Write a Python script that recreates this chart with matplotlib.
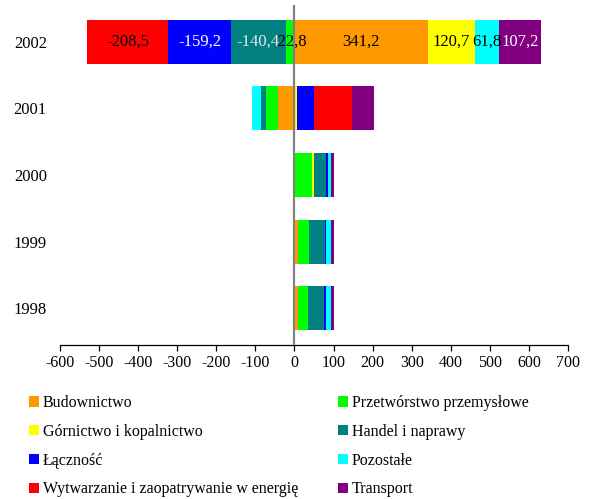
import numpy as np
import matplotlib
matplotlib.use('Agg')
import matplotlib.pyplot as plt
from matplotlib.patches import Patch

plt.rcParams['font.family'] = ['Liberation Serif', 'DejaVu Serif']
plt.rcParams['axes.unicode_minus'] = False

years = ['1998', '1999', '2000', '2001', '2002']

series = ['Budownictwo', 'Przetwórstwo przemysłowe', 'Górnictwo i kopalnictwo',
          'Handel i naprawy', 'Łączność', 'Pozostałe',
          'Wytwarzanie i zaopatrywanie w energię', 'Transport']
colors = ['#ff9900', '#00ff00', '#ffff00', '#008080',
          '#0000ff', '#00ffff', '#ff0000', '#800080']

budownictwo = [8, 8, 0, -41, 341.2]
przetworstwo = [26, 28, 44, -31, -22.8]
gornictwo = [0, 0, 5, 6, 120.7]
handel = [41, 41, 31, -13, -140.4]
lacznosc = [5, 3, 5, 44, -159.2]
pozostale = [13, 13, 8, -23, 61.8]
energia = [0, 0, 0, 97, -208.5]
transport = [8, 8, 8, 56, 107.2]

values = [budownictwo, przetworstwo, gornictwo, handel,
          lacznosc, pozostale, energia, transport]

# text colour of the value labels on the 2002 bar
label_colors = ['black', 'black', 'black', '#e8e8e8',
                'white', 'black', 'black', 'white']

fig = plt.figure(figsize=(5.89, 4.99), dpi=100)
ax = fig.add_axes([60 / 589, 1 - 345 / 499, 508 / 589, 340 / 499])

y = np.arange(len(years))
pos_left = np.zeros(len(years))
neg_left = np.zeros(len(years))

for i, vals in enumerate(values):
    vals = np.array(vals, dtype=float)
    left = np.where(vals >= 0, pos_left, neg_left)
    ax.barh(y, vals, left=left, height=0.66, color=colors[i], zorder=2)
    # label the latest year only
    v = vals[-1]
    ax.text(left[-1] + v / 2, y[-1], f'{v:.1f}'.replace('.', ','),
            ha='center', va='center', fontsize=12, color=label_colors[i], zorder=4)
    pos_left += np.where(vals >= 0, vals, 0)
    neg_left += np.where(vals < 0, vals, 0)

ax.axvline(0, color='#808080', linewidth=1.6, zorder=3)

ax.set_xlim(-600, 700)
ax.set_ylim(-0.55, 4.55)
ax.set_xticks(np.arange(-600, 701, 100))
ax.set_yticks(y)
ax.set_yticklabels(years)

for side in ['top', 'right', 'left']:
    ax.spines[side].set_visible(False)
ax.spines['bottom'].set_linewidth(0.9)
ax.tick_params(axis='x', direction='out', length=4, width=0.9, labelsize=11.5, pad=3)
ax.tick_params(axis='y', length=0, labelsize=12, pad=9.5)

handles = [Patch(facecolor=c, edgecolor='none') for c in colors]
leg_kw = dict(frameon=False, fontsize=11.5, handlelength=0.62, handleheight=0.62,
              handletextpad=0.25, labelspacing=0.8, borderaxespad=0, borderpad=0)
fig.legend(handles[0::2], series[0::2], loc='upper left',
           bbox_to_anchor=(29 / 589, 1 - 395 / 499), **leg_kw)
fig.legend(handles[1::2], series[1::2], loc='upper left',
           bbox_to_anchor=(338 / 589, 1 - 395 / 499), **leg_kw)

fig.savefig('out.png', dpi=100)
